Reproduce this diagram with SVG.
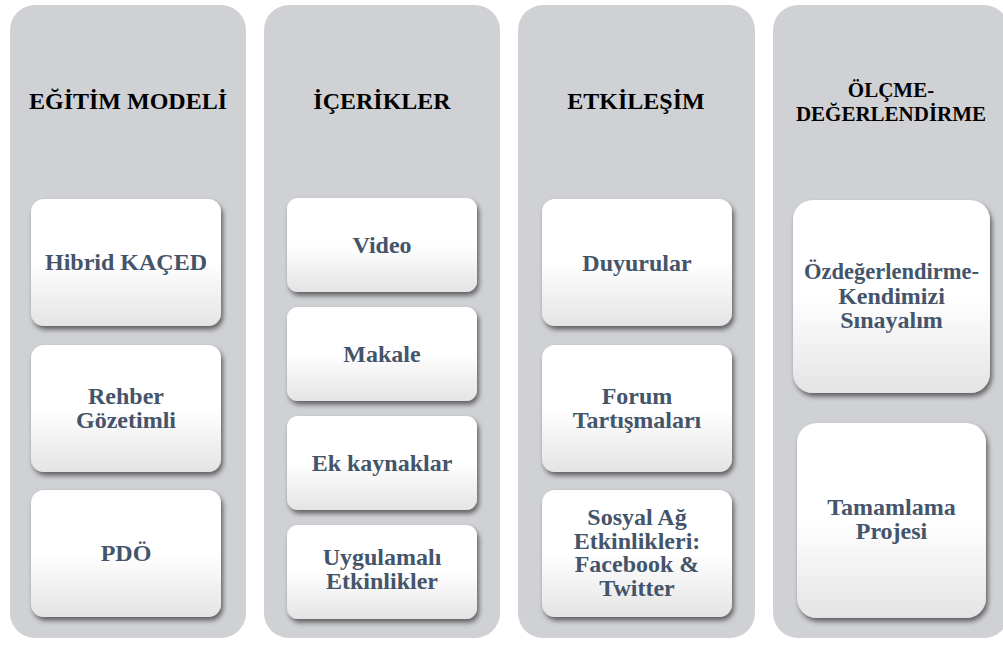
<svg xmlns="http://www.w3.org/2000/svg" width="1003" height="647" viewBox="0 0 1003 647">
  <defs>
    <linearGradient id="boxFill" x1="0" y1="0" x2="0" y2="1">
      <stop offset="0" stop-color="#FFFFFF"/>
      <stop offset="0.5" stop-color="#FFFFFF"/>
      <stop offset="1" stop-color="#E4E4E5"/>
    </linearGradient>
    <filter id="shadow" x="-10%" y="-10%" width="125%" height="130%">
      <feDropShadow dx="2" dy="3.5" stdDeviation="2.5" flood-color="#000000" flood-opacity="0.55"/>
    </filter>
    <style>
      .panel { fill: #D0D1D5; }
      .box { fill: url(#boxFill); filter: url(#shadow); }
      text { font-family: 'Liberation Serif', 'Times New Roman', serif; font-weight: bold; text-anchor: middle; }
      .head { font-size: 24px; fill: #000000; }
      .head2 { font-size: 21px; fill: #000000; }
      .label { font-size: 24px; fill: #44546A; }
      .label-s { font-size: 22.5px; fill: #44546A; }
    </style>
  </defs>

  <rect width="1003" height="647" fill="#FFFFFF"/>

  <!-- Column 1: EĞİTİM MODELİ -->
  <g id="col-egitim-modeli">
    <rect class="panel" x="10" y="5" width="236" height="633" rx="25" ry="25"/>
    <text class="head" x="128" y="109">EĞİTİM MODELİ</text>
  </g>
  <g id="node-hibrid-kaced">
    <rect class="box" x="31" y="199" width="190" height="127" rx="13" ry="13"/>
    <text class="label" x="126" y="270">Hibrid KAÇED</text>
  </g>
  <g id="node-rehber-gozetimli">
    <rect class="box" x="31" y="345" width="190" height="127" rx="13" ry="13"/>
    <text class="label" x="126" y="404">Rehber</text>
    <text class="label" x="126" y="428">Gözetimli</text>
  </g>
  <g id="node-pdo">
    <rect class="box" x="31" y="490" width="190" height="127" rx="13" ry="13"/>
    <text class="label" x="126" y="561">PDÖ</text>
  </g>

  <!-- Column 2: İÇERİKLER -->
  <g id="col-icerikler">
    <rect class="panel" x="264" y="5" width="236" height="633" rx="25" ry="25"/>
    <text class="head" x="382" y="109">İÇERİKLER</text>
  </g>
  <g id="node-video">
    <rect class="box" x="287" y="198" width="190" height="94" rx="11" ry="11"/>
    <text class="label" x="382" y="253">Video</text>
  </g>
  <g id="node-makale">
    <rect class="box" x="287" y="307" width="190" height="94" rx="11" ry="11"/>
    <text class="label" x="382" y="362">Makale</text>
  </g>
  <g id="node-ek-kaynaklar">
    <rect class="box" x="287" y="416" width="190" height="94" rx="11" ry="11"/>
    <text class="label" x="382" y="471">Ek kaynaklar</text>
  </g>
  <g id="node-uygulamali">
    <rect class="box" x="287" y="525" width="190" height="94" rx="11" ry="11"/>
    <text class="label" x="382" y="565">Uygulamalı</text>
    <text class="label" x="382" y="589">Etkinlikler</text>
  </g>

  <!-- Column 3: ETKİLEŞİM -->
  <g id="col-etkilesim">
    <rect class="panel" x="518" y="5" width="237" height="633" rx="25" ry="25"/>
    <text class="head" x="636" y="109">ETKİLEŞİM</text>
  </g>
  <g id="node-duyurular">
    <rect class="box" x="542" y="199" width="190" height="127" rx="13" ry="13"/>
    <text class="label" x="637" y="271">Duyurular</text>
  </g>
  <g id="node-forum">
    <rect class="box" x="542" y="345" width="190" height="127" rx="13" ry="13"/>
    <text class="label" x="637" y="404">Forum</text>
    <text class="label" x="637" y="428">Tartışmaları</text>
  </g>
  <g id="node-sosyal-ag">
    <rect class="box" x="542" y="490" width="190" height="127" rx="13" ry="13"/>
    <text class="label" x="637" y="525">Sosyal Ağ</text>
    <text class="label" x="637" y="548.5">Etkinlikleri:</text>
    <text class="label" x="637" y="572">Facebook &amp;</text>
    <text class="label" x="637" y="595.5">Twitter</text>
  </g>

  <!-- Column 4: ÖLÇME-DEĞERLENDİRME -->
  <g id="col-olcme-degerlendirme">
    <rect class="panel" x="773" y="5" width="236" height="633" rx="25" ry="25"/>
    <text class="head2" x="891" y="97">ÖLÇME-</text>
    <text class="head2" x="891" y="120.5">DEĞERLENDİRME</text>
  </g>
  <g id="node-ozdegerlendirme">
    <rect class="box" x="793" y="200" width="197" height="193" rx="20" ry="20"/>
    <text class="label-s" x="891.5" y="279">Özdeğerlendirme-</text>
    <text class="label" x="891.5" y="303.5">Kendimizi</text>
    <text class="label" x="891.5" y="328">Sınayalım</text>
  </g>
  <g id="node-tamamlama">
    <rect class="box" x="797" y="423" width="189" height="195" rx="20" ry="20"/>
    <text class="label" x="891.5" y="515">Tamamlama</text>
    <text class="label" x="891.5" y="539">Projesi</text>
  </g>

  <!-- no connectors in this layout -->
  <g id="connectors"/>
</svg>
